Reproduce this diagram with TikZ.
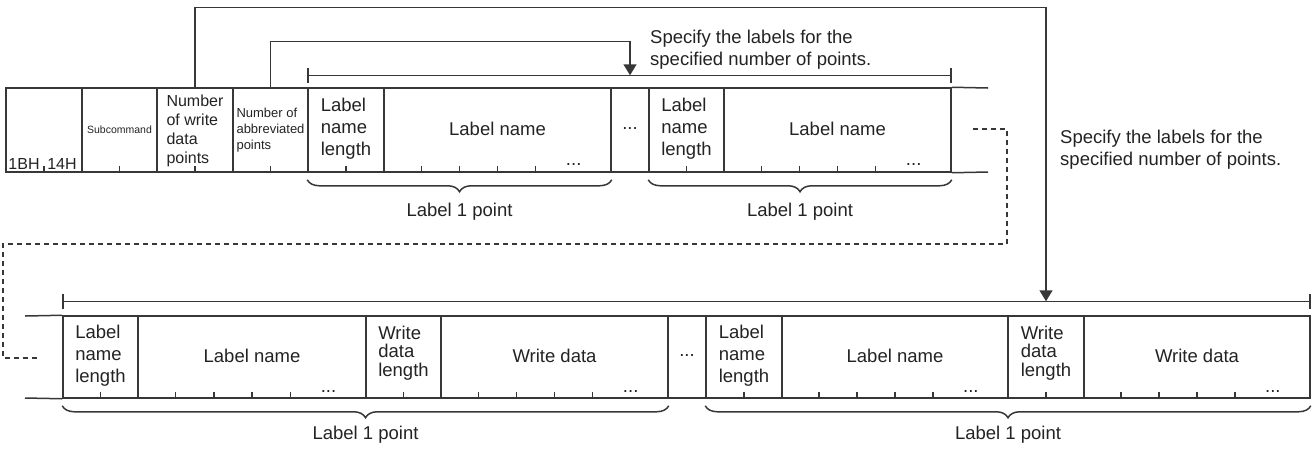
\documentclass[tikz,border=0pt]{standalone}
\usepackage{fontspec}
\setmainfont{Liberation Sans}
\usetikzlibrary{arrows.meta,decorations.pathreplacing,calc}
\definecolor{lc}{RGB}{55,55,55}
\definecolor{tc}{RGB}{35,35,35}
\newcommand\fL{\fontsize{18.5}{22}\selectfont}
\newcommand\fLw{\fontsize{18.5}{18.5}\selectfont}
\newcommand\fM{\fontsize{16}{19}\selectfont}
\newcommand\fS{\fontsize{13}{16}\selectfont}
\newcommand\fXS{\fontsize{10.5}{12}\selectfont}
\begin{document}
\begin{tikzpicture}[x=1pt,y=-1pt,
  ln/.style={draw=lc,line width=1.5pt},
  cellT/.style={ln,minimum height=84pt,inner sep=0pt},
  cellB/.style={ln,minimum height=82pt,inner sep=0pt},
  txt/.style={text=tc,inner sep=0pt,align=left},
  brc/.style={ln,decorate,decoration={brace,mirror,amplitude=12pt}},
  barline/.style={ln,{Bar[width=15pt]}-{Bar[width=15pt]}},
  arr/.style={ln,-{Triangle[length=11pt,width=13pt]}},
  dsh/.style={draw=lc,line width=1.2pt,dash pattern=on 5pt off 4pt}]
\useasboundingbox (0,0) rectangle (1313,448);
% top row cells
\node[cellT,minimum width=76pt] (c1) at (44,130) {};
\node[cellT,minimum width=75pt] (c2) at (119.5,130) {};
\node[cellT,minimum width=76pt] (c3) at (195,130) {};
\node[cellT,minimum width=75pt] (c4) at (270.5,130) {};
\node[cellT,minimum width=76pt] (c5) at (346,130) {};
\node[cellT,minimum width=227pt] (c6) at (497.5,130) {};
\node[cellT,minimum width=38pt] (c7) at (630,130) {};
\node[cellT,minimum width=75pt] (c8) at (686.5,130) {};
\node[cellT,minimum width=227pt] (c9) at (837.5,130) {};
\coordinate (te1) at (988,88);
\coordinate (te2) at (988,172);
\draw[ln] (c9.north east) -- (te1);
\draw[ln] (c9.south east) -- (te2);
% bottom row cells
\node[cellB,minimum width=75pt] (b1) at (100.5,357) {};
\node[cellB,minimum width=228pt] (b2) at (252,357) {};
\node[cellB,minimum width=75pt] (b3) at (403.5,357) {};
\node[cellB,minimum width=227pt] (b4) at (554.5,357) {};
\node[cellB,minimum width=38pt] (b5) at (687,357) {};
\node[cellB,minimum width=76pt] (b6) at (744,357) {};
\node[cellB,minimum width=226pt] (b7) at (895,357) {};
\node[cellB,minimum width=76pt] (b8) at (1046,357) {};
\node[cellB,minimum width=226pt] (b9) at (1197,357) {};
\coordinate (be1) at (25,316);
\coordinate (be2) at (25,398);
\draw[ln] (be1) -- (b1.north west);
\draw[ln] (be2) -- (b1.south west);
% ticks
\foreach \c in {c1,c2,c3,c4,c5,c8,b1,b3,b6,b8}
  \draw[ln] (\c.south) -- ++(0,-7);
\foreach \c in {c6,c9,b2,b4,b7,b9}
  \foreach \k in {1,...,4}
    \draw[ln] ($(\c.south west)!\k/6!(\c.south east)$) -- ++(0,-7);
\foreach \c in {c6,c9}
  \node[txt,font=\fL,anchor=base] at ($(\c.south west)!5/6!(\c.south east)+(0,-7)$) {...};
\foreach \c in {b2,b4,b7,b9}
  \node[txt,font=\fL,anchor=base] at ($(\c.south west)!5/6!(\c.south east)+(0,-6)$) {...};
% texts top row
\node[txt,font=\fM,anchor=base] (t1a) at (24,169) {1BH};
\node[txt,font=\fM,anchor=base] (t1b) at (62,169) {14H};
\node[txt,font=\fXS] (t2) at (c2) {Subcommand};
\node[txt,font=\fM] (t3) at ($(c3)+(0,1)$) {Number\\of write\\data\\points};
\node[txt,font=\fS] (t4) at ($(c4)+(0,0)$) {Number of\\abbreviated\\points};
\node[txt,font=\fL] (t5) at ($(c5)+(0,-1)$) {Label\\name\\length};
\node[txt,font=\fL] (t6) at ($(c6)+(0,-1)$) {Label name};
\node[txt,font=\fL] (t7) at ($(c7)+(0,-1)$) {...};
\node[txt,font=\fL] (t8) at ($(c8)+(0,-1)$) {Label\\name\\length};
\node[txt,font=\fL] (t9) at ($(c9)+(0,-1)$) {Label name};
% texts bottom row
\node[txt,font=\fL] (u1) at ($(b1)+(0,-1)$) {Label\\name\\length};
\node[txt,font=\fL] (u2) at ($(b2)+(0,-1)$) {Label name};
\node[txt,font=\fLw] (u3) at ($(b3)+(0,-4)$) {Write\\data\\length};
\node[txt,font=\fL] (u4) at ($(b4)+(0,-1)$) {Write data};
\node[txt,font=\fL] (u5) at ($(b5)+(0,-1)$) {...};
\node[txt,font=\fL] (u6) at ($(b6)+(0,-1)$) {Label\\name\\length};
\node[txt,font=\fL] (u7) at ($(b7)+(0,-1)$) {Label name};
\node[txt,font=\fLw] (u8) at ($(b8)+(0,-4)$) {Write\\data\\length};
\node[txt,font=\fL] (u9) at ($(b9)+(0,-1)$) {Write data};
% braces
\draw[brc] ($(c5.south west)+(0,7)$) -- ($(c6.south east)+(0,7)$);
\draw[brc] ($(c8.south west)+(0,7)$) -- ($(c9.south east)+(0,7)$);
\draw[brc] ($(b1.south west)+(0,7)$) -- ($(b4.south east)+(0,7)$);
\draw[brc] ($(b6.south west)+(0,7)$) -- ($(b9.south east)+(0,7)$);
\node[txt,font=\fL] (l1) at ($(c5.south west)!0.5!(c6.south east)+(0,39)$) {Label 1 point};
\node[txt,font=\fL] (l2) at ($(c8.south west)!0.5!(c9.south east)+(0,39)$) {Label 1 point};
\node[txt,font=\fL] (l3) at ($(b1.south west)!0.5!(b4.south east)+(0,36)$) {Label 1 point};
\node[txt,font=\fL] (l4) at ($(b6.south west)!0.5!(b9.south east)+(0,36)$) {Label 1 point};
% range bars
\coordinate (r1l) at ($(c5.north west)+(0,-12)$);
\coordinate (r1r) at ($(c9.north east)+(0,-12)$);
\coordinate (r2l) at ($(b1.north west)+(0,-14)$);
\coordinate (r2r) at ($(b9.north east)+(0,-14)$);
\draw[barline] (r1l) -- (r1r);
\draw[barline] (r2l) -- (r2r);
\coordinate (g1) at (c7.north |- r1l);
\coordinate (g2) at (b8.north |- r2l);
% arrows
\draw[arr] (c4.north) -- ++(0,-46) -| (g1);
\draw[arr] (c3.north) -- ++(0,-80) -| (g2);
% notes
\node[txt,font=\fL,anchor=base west] (s1) at (650,65) {Specify the labels for the\\specified number of points.};
\node[txt,font=\fL,anchor=base west] (s2) at (1060,165) {Specify the labels for the\\specified number of points.};
% dashed continuation
\coordinate (d1) at (973,129);
\coordinate (d2) at (40,358);
\draw[dsh] (d1) -- (1007,129) -- (1007,244) -- (3,244) -- (3,358) -- (d2);
\end{tikzpicture}
\end{document}
